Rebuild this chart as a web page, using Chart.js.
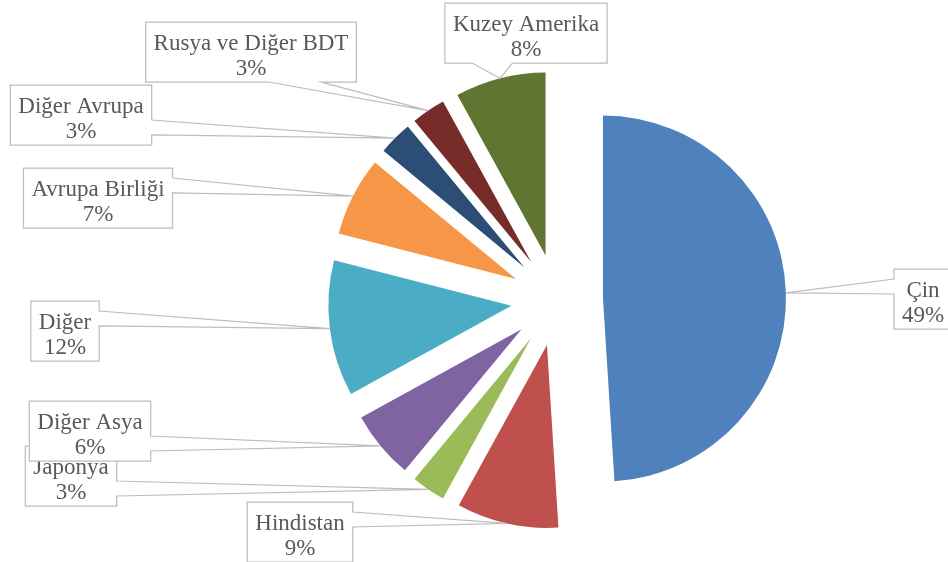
<!DOCTYPE html>
<html><head><meta charset="utf-8">
<script src="https://cdn.jsdelivr.net/npm/chart.js@4.4.1/dist/chart.umd.min.js"></script>
<style>html,body{margin:0;padding:0;background:#fff;}canvas{display:block;}</style>
</head><body>
<canvas id="c" width="948" height="562"></canvas>
<script>
// ---- data ----
const categories = ['Çin','Hindistan','Japonya','Diğer Asya','Diğer','Avrupa Birliği','Diğer Avrupa','Rusya ve Diğer BDT','Kuzey Amerika'];
const shares = [49, 9, 3, 6, 12, 7, 3, 3, 8];
const sliceColors = ['#4F81BD','#C0504D','#9BBB59','#8064A2','#4BACC6','#F79646','#2C4D75','#772C2A','#5F7530'];

// ---- layout (not data) ----
const calloutCenters = [[923,299],[300,532],[71,476],[90,431],[65,331],[98,198],[81,115],[251,52],[526,33]];
const EXPLODE = 46;
const FONT = '23px "Liberation Serif", "Times New Roman", serif';

const explodePlugin = {
  id: 'explode',
  beforeDatasetDraw(chart, args) {
    const ctx = chart.ctx;
    args.meta.data.forEach(arc => {
      const mid = (arc.startAngle + arc.endAngle) / 2;
      ctx.save();
      ctx.translate(Math.cos(mid) * EXPLODE, Math.sin(mid) * EXPLODE);
      arc.draw(ctx, chart.chartArea);
      ctx.restore();
    });
    return false;
  }
};

function calloutPath(ctx, l, t, w, h, tx, ty) {
  const cx = l + w / 2, cy = t + h / 2;
  const dx = tx - cx, dy = ty - cy;
  const dq = dx * h / w;
  const vertical = Math.abs(dy) > Math.abs(dq);
  const r = l + w, b = t + h;
  const fr = (pos) => pos ? [7/12, 10/12] : [2/12, 5/12];
  ctx.beginPath();
  ctx.moveTo(l, t);
  if (vertical && dy < 0) { const [f1,f2] = fr(dx > 0); ctx.lineTo(l+w*f1, t); ctx.lineTo(tx, ty); ctx.lineTo(l+w*f2, t); }
  ctx.lineTo(r, t);
  if (!vertical && dx > 0) { const [f1,f2] = fr(dy > 0); ctx.lineTo(r, t+h*f1); ctx.lineTo(tx, ty); ctx.lineTo(r, t+h*f2); }
  ctx.lineTo(r, b);
  if (vertical && dy > 0) { const [f1,f2] = fr(dx > 0); ctx.lineTo(l+w*f2, b); ctx.lineTo(tx, ty); ctx.lineTo(l+w*f1, b); }
  ctx.lineTo(l, b);
  if (!vertical && dx < 0) { const [f1,f2] = fr(dy > 0); ctx.lineTo(l, t+h*f2); ctx.lineTo(tx, ty); ctx.lineTo(l, t+h*f1); }
  ctx.closePath();
}

const calloutPlugin = {
  id: 'callouts',
  afterDatasetsDraw(chart) {
    const ctx = chart.ctx;
    const meta = chart.getDatasetMeta(0);
    const data = chart.data.datasets[0].data;
    const total = data.reduce((a, b) => a + b, 0);
    ctx.save();
    ctx.font = FONT;
    meta.data.forEach((arc, i) => {
      const mid = (arc.startAngle + arc.endAngle) / 2;
      const rr = arc.outerRadius + EXPLODE;
      const tx = arc.x + Math.cos(mid) * rr, ty = arc.y + Math.sin(mid) * rr;
      const line1 = chart.data.labels[i];
      const line2 = Math.round(data[i] / total * 100) + '%';
      const w = Math.max(ctx.measureText(line1).width, ctx.measureText(line2).width) + 16;
      const h = 60;
      const [cx, cy] = calloutCenters[i];
      const l = cx - w / 2, t = cy - h / 2;
      calloutPath(ctx, l, t, w, h, tx, ty);
      ctx.fillStyle = '#ffffff';
      ctx.fill();
      ctx.lineWidth = 1.25;
      ctx.strokeStyle = '#BDBDBD';
      ctx.stroke();
      ctx.fillStyle = '#595959';
      ctx.textAlign = 'center';
      ctx.textBaseline = 'alphabetic';
      ctx.fillText(line1, cx, cy - 2);
      ctx.fillText(line2, cx, cy + 23);
    });
    ctx.restore();
  }
};

new Chart(document.getElementById('c'), {
  type: 'pie',
  data: {
    labels: categories,
    datasets: [{ data: shares, backgroundColor: sliceColors, borderWidth: 0 }]
  },
  options: {
    responsive: false,
    animation: false,
    radius: 183,
    layout: { padding: { left: 166, right: 0, top: 38, bottom: 0 } },
    plugins: { legend: { display: false }, tooltip: { enabled: false } },
    events: []
  },
  plugins: [explodePlugin, calloutPlugin]
});
</script>
</body></html>
